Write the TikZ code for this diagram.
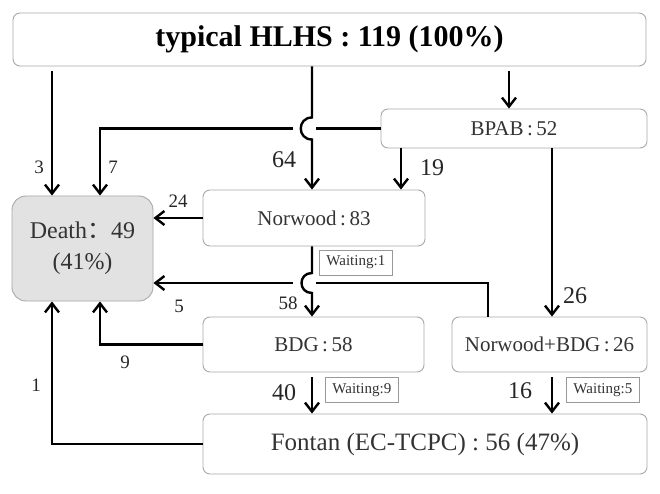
\documentclass[tikz,border=0pt]{standalone}
\usepackage{fontspec}
\setmainfont{Liberation Serif}
\newfontfamily\cjk{Noto Sans CJK SC}
\usepackage{xcolor}
\usetikzlibrary{arrows.meta}

\definecolor{boxline}{HTML}{A8A8A8}
\definecolor{boxtext}{HTML}{333333}
\definecolor{deathfill}{HTML}{E2E2E2}

\tikzset{
  box/.style={draw=boxline, line width=0.9pt, rounded corners=7pt, inner sep=0pt,
    text=boxtext, font=\fontsize{21}{23}\selectfont},
  waitbox/.style={draw=gray!80, line width=0.9pt, inner xsep=7pt, inner ysep=0pt,
    minimum height=25pt, anchor=west, text=boxtext, font=\fontsize{15}{17}\selectfont},
  flow/.style={line width=2.4pt, -{Straight Barb[length=9pt,width=14pt]}},
  wire/.style={line width=2.4pt},
  small/.style={text=black!85, font=\fontsize{19}{21}\selectfont},
  big/.style={text=black!85, font=\fontsize{24}{26}\selectfont},
}

\begin{document}
\begin{tikzpicture}[x=1pt, y=-1pt]
      % \draw[help lines, gray!50, very thin] (0,0) grid[step=20] (660,494);
      \useasboundingbox (0,0) rectangle (660,494);

      % boxes
      \node[box, minimum width=633, minimum height=53, text=black,
        font=\fontsize{30}{33}\selectfont\bfseries] (top) at (329.5,39.5) {typical HLHS : 119 (100\%)};
      \node[box, minimum width=266, minimum height=39] (bpab) at (514,128.5) {BPAB\,:\,52};
      \node[box, minimum width=141, minimum height=105, rounded corners=14pt, fill=deathfill,
        align=center, text=boxtext, font=\fontsize{24}{31}\selectfont] (death) at (82.5,248.5) {Death{\cjk ：}49\\(41\%)};
      \node[box, minimum width=222, minimum height=56] (norwood) at (314,218) {Norwood\,:\,83};
      \node[box, minimum width=221, minimum height=55] (bdg) at (313.5,344.5) {BDG\,:\,58};
      \node[box, minimum width=195, minimum height=55] (nbdg) at (549.5,344.5) {Norwood+BDG\,:\,26};
      \node[box, minimum width=444, minimum height=60,
        font=\fontsize{25}{28}\selectfont] (fontan) at (425,444) {Fontan (EC-TCPC) : 56 (47\%)};

      \node[waitbox] (wait1) at (319,262.5) {Waiting:1};
      \node[waitbox] (wait9) at (325,390) {Waiting:9};
      \node[waitbox] (wait5) at (566,390) {Waiting:5};

      % columns and crossings
      \coordinate (colA) at (52,0);
      \coordinate (colB) at (100,0);
      \coordinate (colD) at (401,0);
      \coordinate (colE) at (509,0);
      \coordinate (colF) at (552,0);
      \coordinate (colG) at (488,0);
      \coordinate (hop1) at (312,128.5);
      \coordinate (hop2) at (312,283);

      % connectors
      \draw[flow, shorten <=5pt] (top.south -| colA) -- (death.north -| colA);
      \draw[flow] (bpab.west) -- (bpab.west -| colB) -- (death.north -| colB);
      \draw[white, line width=5pt] ([xshift=-19pt]hop1) -- ([xshift=4pt]hop1);
      \draw[flow] (top.south -| hop1) -- ([yshift=11pt]hop1)
        .. controls +(-15pt,0) and +(-15pt,0) .. ([yshift=-11pt]hop1) -- (norwood.north -| hop1);
      \draw[flow, shorten <=5pt] (top.south -| colE) -- (bpab.north -| colE);
      \draw[flow] (bpab.south -| colD) -- (norwood.north -| colD);
      \draw[flow] (bpab.south -| colF) -- (nbdg.north -| colF);
      \draw[flow] (norwood.west) -- (death.east |- norwood.west);

      \draw[flow] (nbdg.north -| colG) -- (colG |- hop2) -- (death.east |- hop2);
      \draw[white, line width=5pt] ([xshift=-19pt]hop2) -- ([xshift=4pt]hop2);
      \draw[flow] (norwood.south -| hop2) -- ([yshift=10pt]hop2)
        .. controls +(-14pt,0) and +(-14pt,0) .. ([yshift=-10pt]hop2) -- (bdg.north -| hop2);

      \draw[flow] (bdg.west) -- (bdg.west -| colB) -- (death.south -| colB);
      \draw[flow] (fontan.west) -- (fontan.west -| colA) -- (death.south -| colA);
      \draw[flow, shorten <=5pt] (bdg.south -| hop2) -- (fontan.north -| hop2);
      \draw[flow, shorten <=5pt] (nbdg.south -| colF) -- (fontan.north -| colF);

      % numbers
      \node[small] (n3) at (39,167) {3};
      \node[small] (n7) at (113,167) {7};
      \node[big] (n64) at (284,160) {64};
      \node[big] (n19) at (432,168) {19};
      \node[small] (n24) at (178,201) {24};
      \node[small] (n5) at (179,306) {5};
      \node[small] (n58) at (288,303) {58};
      \node[big] (n26) at (575,296) {26};
      \node[small] (n9) at (125,362) {9};
      \node[small] (n1) at (36,385) {1};
      \node[big] (n40) at (284,393) {40};
      \node[big] (n16) at (520,391) {16};
\end{tikzpicture}
\end{document}
